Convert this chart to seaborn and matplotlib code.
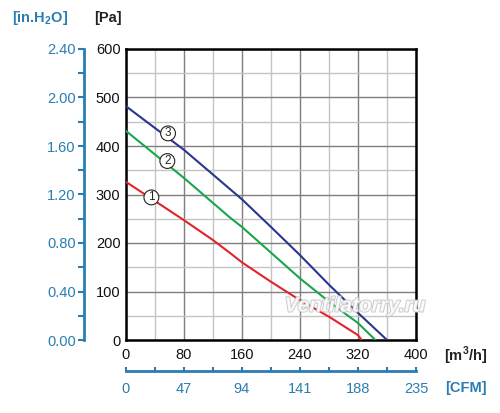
import matplotlib
matplotlib.use("Agg")
import matplotlib.pyplot as plt
import matplotlib.patheffects as pe
from matplotlib.ticker import MultipleLocator, FixedLocator
import seaborn as sns
import pandas as pd

# ---- data ----
red_q = [0, 80, 120, 143, 160, 200, 240, 280, 320, 325]
red_p = [326, 247, 206, 180, 160, 120, 82, 48, 10, 0]
green_q = [0, 80, 143, 160, 200, 240, 280, 320, 344]
green_p = [431, 334, 253, 233, 180, 127, 79, 35, 0]
blue_q = [0, 80, 160, 200, 240, 280, 320, 360]
blue_p = [482, 392, 290, 233, 175, 114, 56, 0]
curve_names = ["1", "2", "3"]
curve_colors = ["#e3232b", "#1aa64a", "#2b3590"]
label_pos = {"1": (35, 294), "2": (57, 369), "3": (58, 426)}
pa_ticks = [0, 100, 200, 300, 400, 500, 600]
q_ticks = [0, 80, 160, 240, 320, 400]
inh2o_labels = ["0.00", "0.40", "0.80", "1.20", "1.60", "2.00", "2.40"]
cfm_labels = ["0", "47", "94", "141", "188", "235"]

BLUE_AX = "#2a7db3"

sns.set_style("white")
plt.rcParams["font.family"] = ["Liberation Sans", "DejaVu Sans"]
plt.rcParams["mathtext.fontset"] = "custom"
plt.rcParams["mathtext.rm"] = "Liberation Sans"
plt.rcParams["mathtext.bf"] = "Liberation Sans:bold"

df = pd.concat([
    pd.DataFrame({"q": red_q, "p": red_p, "curve": "1"}),
    pd.DataFrame({"q": green_q, "p": green_p, "curve": "2"}),
    pd.DataFrame({"q": blue_q, "p": blue_p, "curve": "3"}),
])

W, H = 500, 413
fig = plt.figure(figsize=(W / 100, H / 100), dpi=100)
L, R, T, B = 126, 416, 49, 340
ax = fig.add_axes([L / W, 1 - B / H, (R - L) / W, (B - T) / H])

sns.lineplot(data=df, x="q", y="p", hue="curve", palette=dict(zip(curve_names, curve_colors)),
             hue_order=curve_names, ax=ax, legend=False, linewidth=1.5, zorder=3, sort=False)

ax.set_xlim(0, 400)
ax.set_ylim(0, 600)
ax.set_xlabel("")
ax.set_ylabel("")
ax.xaxis.set_major_locator(FixedLocator(q_ticks))
ax.xaxis.set_minor_locator(MultipleLocator(40))
ax.yaxis.set_major_locator(FixedLocator(pa_ticks))
ax.yaxis.set_minor_locator(MultipleLocator(50))
ax.grid(which="major", color="#7f7f7f", linewidth=1.0, zorder=0)
ax.grid(which="minor", color="#c4c4c4", linewidth=1.0, zorder=0)
ax.set_axisbelow(True)
for s in ax.spines.values():
    s.set_color("black")
    s.set_linewidth(1.8)
ax.tick_params(which="both", direction="out", length=3, width=1.5, color="black",
               labelsize=10.5, labelcolor="#111111", pad=1)
ax.tick_params(axis="x", pad=3)

# circled curve labels
for name in curve_names:
    x, y = label_pos[name]
    ax.text(x, y, name, ha="center", va="center", fontsize=8.5, zorder=5,
            bbox=dict(boxstyle="circle,pad=0.12", fc="white", ec="#222222", lw=0.8))

# watermark
ax.text(316, 70, "Ventilatorry.ru", fontsize=15, style="italic", fontweight="bold",
        color="white", alpha=0.85, ha="center", va="center", zorder=4,
        path_effects=[pe.withStroke(linewidth=1.4, foreground="#c4c4c4")])

# secondary blue axes
sec_y = ax.secondary_yaxis((84 - L) / (R - L), functions=(lambda p: p / 250.0, lambda v: v * 250.0))
sec_y.yaxis.set_major_locator(FixedLocator([i * 0.4 for i in range(7)]))
sec_y.yaxis.set_minor_locator(FixedLocator([0.2 + i * 0.4 for i in range(6)]))
sec_y.set_yticklabels(inh2o_labels)
sec_y.spines["left"].set_color(BLUE_AX)
sec_y.spines["left"].set_linewidth(2)
sec_y.tick_params(which="both", direction="out", length=4, width=1.5, color=BLUE_AX,
                  labelcolor=BLUE_AX, labelsize=10.5, pad=2)

sec_x = ax.secondary_xaxis(-(371 - B) / (B - T), functions=(lambda q: q * 235 / 400.0, lambda c: c * 400 / 235.0))
sec_x.xaxis.set_major_locator(FixedLocator([0, 47, 94, 141, 188, 235]))
sec_x.xaxis.set_minor_locator(FixedLocator([23.5, 70.5, 117.5, 164.5, 211.5]))
sec_x.set_xticklabels(cfm_labels)
sec_x.spines["bottom"].set_color(BLUE_AX)
sec_x.spines["bottom"].set_linewidth(2)
sec_x.tick_params(which="both", direction="in", length=3, width=1.5, color=BLUE_AX,
                  labelcolor=BLUE_AX, labelsize=10.5, pad=8)

# unit labels
fig.text(40 / W, 1 - 18 / H, r"[in.H$_{\mathbf{2}}$O]", color=BLUE_AX, fontsize=10.5,
         fontweight="bold", ha="center", va="center")
fig.text(108 / W, 1 - 18 / H, "[Pa]", color="#222222", fontsize=10.5, fontweight="bold",
         ha="center", va="center")
fig.text(466 / W, 1 - 356 / H, r"[m$^{\mathbf{3}}$/h]", color="#222222", fontsize=10.5,
         fontweight="bold", ha="center", va="center")
fig.text(466 / W, 1 - 388 / H, "[CFM]", color=BLUE_AX, fontsize=10.5, fontweight="bold",
         ha="center", va="center")

fig.savefig("out.png", dpi=100)
